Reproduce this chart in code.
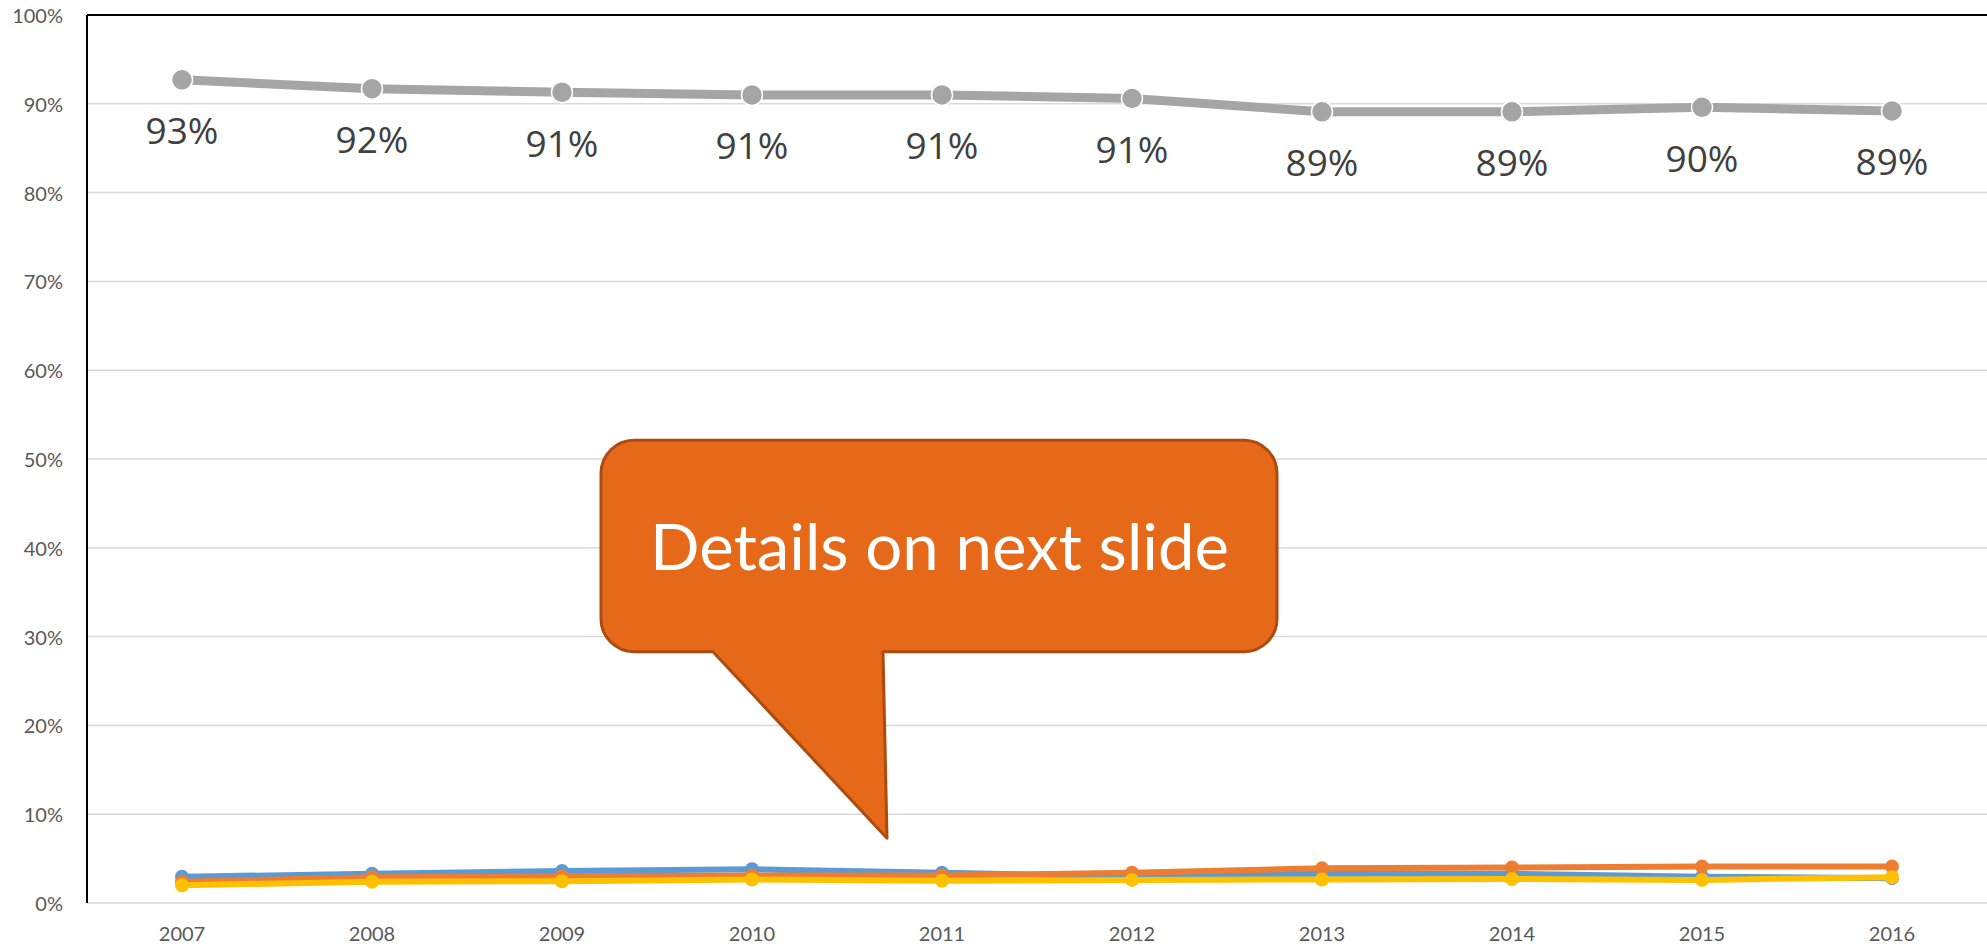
<!DOCTYPE html>
<html>
<head>
<meta charset="utf-8">
<script src="https://d3js.org/d3.v7.min.js"></script>
<style>
  html, body { margin: 0; padding: 0; background: #fff; }
  svg { display: block; }
</style>
</head>
<body>
<div id="chart"></div>
<script>
// Données
const years = ["2007", "2008", "2009", "2010", "2011", "2012", "2013", "2014", "2015", "2016"];
const blueValues = [2.95, 3.3, 3.6, 3.8, 3.4, 3.0, 3.3, 3.3, 2.95, 2.8];
const orangeValues = [2.4, 2.9, 3.0, 3.1, 3.1, 3.4, 3.9, 4.0, 4.1, 4.1];
const grayValues = [92.7, 91.7, 91.3, 91.0, 91.0, 90.6, 89.1, 89.1, 89.6, 89.2];
const yellowValues = [2.0, 2.4, 2.45, 2.65, 2.5, 2.6, 2.65, 2.7, 2.6, 2.9];
const yTicks = [0, 10, 20, 30, 40, 50, 60, 70, 80, 90, 100];
const calloutText = "Details on next slide";

// Configuration
const width = 1987;
const height = 950;
const margin = { top: 15, right: 0, bottom: 47, left: 87 };

const svg = d3
  .select("#chart")
  .append("svg")
  .attr("width", width)
  .attr("height", height);

const x = d3
  .scaleBand()
  .domain(years)
  .range([margin.left, width - margin.right]);

const y = d3
  .scaleLinear()
  .domain([0, 100])
  .range([height - margin.bottom, margin.top]);

const cx = (d) => x(d) + x.bandwidth() / 2;

// Quadrillage
svg
  .append("g")
  .selectAll("line")
  .data(yTicks)
  .join("line")
  .attr("x1", margin.left)
  .attr("x2", width - margin.right)
  .attr("y1", (d) => y(d))
  .attr("y2", (d) => y(d))
  .attr("stroke", "#d9d9d9")
  .attr("stroke-width", 1.5);

// Bordures gauche et haute
svg
  .append("line")
  .attr("x1", margin.left)
  .attr("x2", margin.left)
  .attr("y1", y(100))
  .attr("y2", y(0))
  .attr("stroke", "#000")
  .attr("stroke-width", 2);
svg
  .append("line")
  .attr("x1", margin.left)
  .attr("x2", width)
  .attr("y1", y(100))
  .attr("y2", y(100))
  .attr("stroke", "#000")
  .attr("stroke-width", 2);

// Étiquettes de l'axe Y
svg
  .append("g")
  .selectAll("text")
  .data(yTicks)
  .join("text")
  .attr("x", 63)
  .attr("y", (d) => y(d))
  .attr("text-anchor", "end")
  .attr("dominant-baseline", "central")
  .attr("font-family", "Lato, 'Open Sans', sans-serif")
  .attr("font-size", 20)
  .attr("fill", "#595959")
  .text((d) => d + "%");

// Étiquettes de l'axe X
svg
  .append("g")
  .selectAll("text")
  .data(years)
  .join("text")
  .attr("x", cx)
  .attr("y", 933)
  .attr("text-anchor", "middle")
  .attr("dominant-baseline", "central")
  .attr("font-family", "Lato, 'Open Sans', sans-serif")
  .attr("font-size", 20)
  .attr("fill", "#595959")
  .text((d) => d);

// Séries (ordre de dessin comme dans Excel)
const series = [
  { name: "blue", values: blueValues, color: "#5b9bd5", width: 6, r: 7, outline: "none" },
  { name: "orange", values: orangeValues, color: "#ed7d31", width: 6, r: 7, outline: "none" },
  { name: "gray", values: grayValues, color: "#a5a5a5", width: 9, r: 10.5, outline: "#fff" },
  { name: "yellow", values: yellowValues, color: "#ffc000", width: 6, r: 7, outline: "none" },
];

const line = d3
  .line()
  .x((d, i) => cx(years[i]))
  .y((d) => y(d));

series.forEach((s) => {
  const g = svg.append("g").attr("class", "series-" + s.name);
  g.append("path")
    .attr("d", line(s.values))
    .attr("fill", "none")
    .attr("stroke", s.color)
    .attr("stroke-width", s.width)
    .attr("stroke-linejoin", "round");
  g.selectAll("circle")
    .data(s.values)
    .join("circle")
    .attr("cx", (d, i) => cx(years[i]))
    .attr("cy", (d) => y(d))
    .attr("r", s.r)
    .attr("fill", s.color)
    .attr("stroke", s.outline)
    .attr("stroke-width", 1.5);
});

// Étiquettes de données de la série grise
svg
  .append("g")
  .selectAll("text")
  .data(grayValues)
  .join("text")
  .attr("x", (d, i) => cx(years[i]))
  .attr("y", (d) => y(d) + 50)
  .attr("text-anchor", "middle")
  .attr("dominant-baseline", "central")
  .attr("font-family", "'Open Sans', sans-serif")
  .attr("font-size", 37)
  .attr("fill", "#404040")
  .text((d) => Math.round(d) + "%");

// Bulle "Details on next slide" (hauteurs en unités de données)
const box = { x0: 601, x1: 1277, top: 52.1, bottom: 28.3, r: 33 };
const tail = { left: 713, right: 883, tipX: 887, tipY: 7.3 };

const bt = y(box.top);
const bb = y(box.bottom);
const r = box.r;
const p = d3.path();
p.moveTo(box.x0 + r, bt);
p.lineTo(box.x1 - r, bt);
p.arcTo(box.x1, bt, box.x1, bt + r, r);
p.lineTo(box.x1, bb - r);
p.arcTo(box.x1, bb, box.x1 - r, bb, r);
p.lineTo(tail.right, bb);
p.lineTo(tail.tipX, y(tail.tipY));
p.lineTo(tail.left, bb);
p.lineTo(box.x0 + r, bb);
p.arcTo(box.x0, bb, box.x0, bb - r, r);
p.lineTo(box.x0, bt + r);
p.arcTo(box.x0, bt, box.x0 + r, bt, r);
p.closePath();

svg
  .append("path")
  .attr("d", p.toString())
  .attr("fill", "#e66819")
  .attr("stroke", "#ad4b0f")
  .attr("stroke-width", 3)
  .attr("stroke-linejoin", "round");

svg
  .append("text")
  .attr("x", 939.5)
  .attr("y", 570)
  .attr("text-anchor", "middle")
  .attr("font-family", "Lato, 'Open Sans', sans-serif")
  .attr("font-size", 63)
  .attr("textLength", 579)
  .attr("lengthAdjust", "spacingAndGlyphs")
  .attr("fill", "#fff")
  .text(calloutText);
</script>
</body>
</html>
